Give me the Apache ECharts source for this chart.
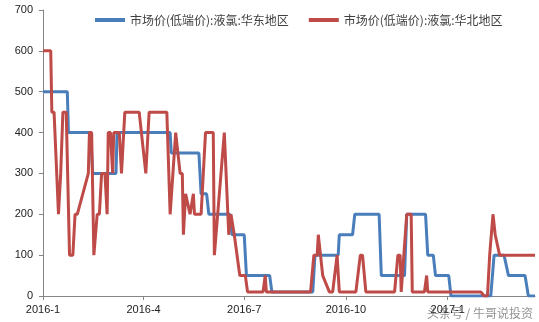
<!DOCTYPE html>
<html>
<head>
<meta charset="utf-8">
<script src="https://cdn.jsdelivr.net/npm/echarts@6/dist/echarts.min.js"></script>
<style>html,body{margin:0;padding:0;background:#fff}#c{width:539px;height:322px}</style>
</head>
<body>
<div id="c"></div>
<script>
var seriesNames = ['市场价(低端价):液氯:华东地区', '市场价(低端价):液氯:华北地区'];
var tickDates = ['2016-01-01', '2016-04-01', '2016-07-01', '2016-10-01', '2017-01-01'];
var tickLabels = ['2016-1', '2016-4', '2016-7', '2016-10', '2017-1'];
var endDate = '2017-03-21';

var eastDates = ['2016-01-01','2016-01-23','2016-01-24','2016-02-13','2016-02-15','2016-03-07','2016-03-08','2016-04-25','2016-04-26','2016-05-21','2016-05-23','2016-05-28','2016-05-30','2016-06-18','2016-06-20','2016-07-01','2016-07-03','2016-07-24','2016-07-26','2016-09-01','2016-09-03','2016-09-24','2016-09-25','2016-10-07','2016-10-09','2016-10-31','2016-11-02','2016-11-23','2016-11-25','2016-12-12','2016-12-14','2016-12-19','2016-12-21','2017-01-02','2017-01-04','2017-02-09','2017-02-12','2017-02-21','2017-02-25','2017-03-12','2017-03-15','2017-03-21'];
var eastValues = [500,500,400,400,300,300,400,400,350,350,250,250,200,200,150,150,50,50,10,10,100,100,150,150,200,200,50,50,200,200,100,100,50,50,0,0,100,100,50,50,0,0];

var northDates = ['2016-01-01','2016-01-08','2016-01-09','2016-01-11','2016-01-15','2016-01-17','2016-01-19','2016-01-22','2016-01-25','2016-01-28','2016-01-30','2016-02-01','2016-02-11','2016-02-12','2016-02-14','2016-02-16','2016-02-19','2016-02-21','2016-02-23','2016-02-26','2016-02-28','2016-02-29','2016-03-02','2016-03-04','2016-03-05','2016-03-10','2016-03-12','2016-03-15','2016-03-28','2016-04-03','2016-04-06','2016-04-22','2016-04-25','2016-04-30','2016-05-04','2016-05-06','2016-05-07','2016-05-09','2016-05-13','2016-05-16','2016-05-17','2016-05-23','2016-05-27','2016-06-03','2016-06-04','2016-06-13','2016-06-17','2016-06-19','2016-06-22','2016-06-27','2016-07-02','2016-07-04','2016-07-18','2016-07-20','2016-07-21','2016-08-30','2016-09-02','2016-09-05','2016-09-06','2016-09-08','2016-09-10','2016-09-16','2016-09-19','2016-09-23','2016-09-25','2016-10-10','2016-10-14','2016-10-16','2016-10-19','2016-11-14','2016-11-17','2016-11-19','2016-11-20','2016-11-25','2016-11-29','2016-11-30','2016-12-11','2016-12-13','2016-12-14','2017-01-31','2017-02-03','2017-02-06','2017-02-08','2017-02-11','2017-02-13','2017-02-17','2017-03-21'];
var northValues = [600,600,450,450,200,300,450,450,100,100,200,200,300,400,400,100,200,200,300,300,200,400,400,300,400,400,300,450,450,300,450,450,200,400,300,300,150,250,200,250,200,200,400,400,100,400,150,200,150,50,50,10,10,50,10,10,100,100,150,100,50,10,10,100,10,10,100,100,10,10,100,100,10,200,200,10,10,50,10,10,0,0,100,200,150,100,100];

var base = Date.parse(tickDates[0]);
function dayOf(s) { return (Date.parse(s) - base) / 86400000; }
function pairs(ds, vs) { return ds.map(function (d, i) { return [dayOf(d), vs[i]]; }); }
var tickDays = tickDates.map(dayOf);

var chart = echarts.init(document.getElementById('c'));
chart.setOption({
  animation: false,
  backgroundColor: '#fff',
  grid: { left: 43, right: 4, top: 10, bottom: 26 },
  legend: {
    left: 90, top: 9,
    itemWidth: 30, itemHeight: 4, itemGap: 20,
    icon: 'rect',
    textStyle: { fontFamily: 'Noto Sans CJK SC', fontSize: 12, color: '#404040' },
    data: seriesNames
  },
  xAxis: {
    type: 'value', min: 0, max: dayOf(endDate),
    splitLine: { show: false },
    axisLine: { lineStyle: { color: '#868686' } },
    axisTick: { show: true, length: 4, inside: false, customValues: tickDays, lineStyle: { color: '#868686' } },
    axisLabel: {
      customValues: tickDays, margin: 8,
      fontFamily: 'Liberation Sans', fontSize: 11, color: '#222',
      formatter: function (v) { var i = tickDays.indexOf(v); return i >= 0 ? tickLabels[i] : ''; }
    }
  },
  yAxis: {
    type: 'value', min: 0, max: 700, interval: 100,
    splitLine: { show: false },
    axisLine: { show: true, lineStyle: { color: '#868686' } },
    axisTick: { show: true, length: 4, lineStyle: { color: '#868686' } },
    axisLabel: { margin: 10, fontFamily: 'Liberation Sans', fontSize: 11, color: '#222' }
  },
  series: [
    { name: seriesNames[0], type: 'line', data: pairs(eastDates, eastValues), showSymbol: false,
      itemStyle: { color: '#4A7EBB' }, lineStyle: { width: 3, color: '#4A7EBB' } },
    { name: seriesNames[1], type: 'line', data: pairs(northDates, northValues), showSymbol: false,
      itemStyle: { color: '#BE4B48' }, lineStyle: { width: 3, color: '#BE4B48' } }
  ],
  graphic: [{
    type: 'text', right: 6, bottom: 3,
    style: { text: '头条号 / 牛哥说投资', font: '12px "Noto Sans CJK SC"', fill: 'rgba(110,110,110,0.75)' }
  }]
});
</script>
</body>
</html>
